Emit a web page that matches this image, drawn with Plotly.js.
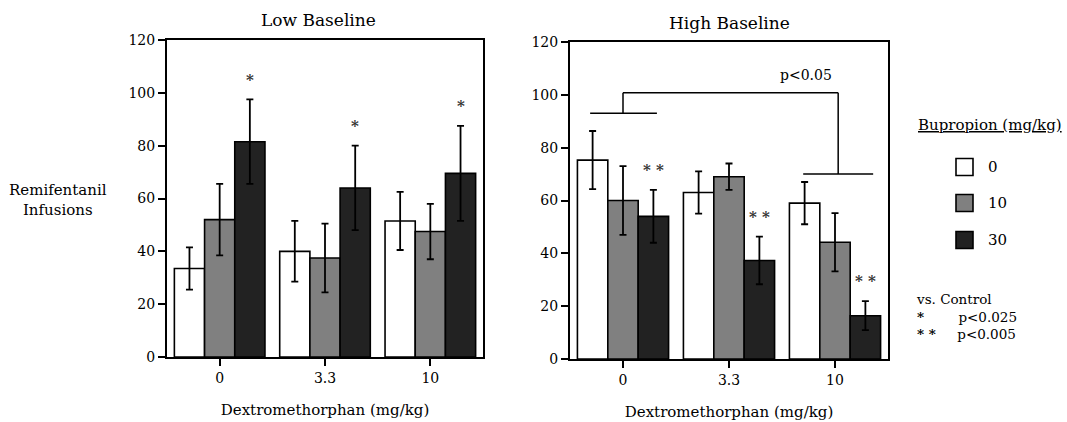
<!DOCTYPE html>
<html><head><meta charset="utf-8">
<script src="https://cdn.plot.ly/plotly-3.0.1.min.js"></script>
<style>html,body{margin:0;padding:0;background:#fff;} #chart{width:1067px;height:422px;}</style>
</head><body><div id="chart"></div>
<script>
// ---- data ----
const doses = ['0', '3.3', '10'];                 // Dextromethorphan (mg/kg)
const bupropionDoses = ['0', '10', '30'];         // Bupropion (mg/kg)
const seriesColors = ['#ffffff', '#808080', '#222222'];

const lowMean0  = [33.5, 40.0, 51.5];
const lowErr0   = [8.0, 11.5, 11.0];
const lowMean10 = [52.0, 37.5, 47.5];
const lowErr10  = [13.5, 13.0, 10.5];
const lowMean30 = [81.5, 64.0, 69.5];
const lowErr30  = [16.0, 16.0, 18.0];

const highMean0  = [75.3, 63.0, 59.0];
const highErr0   = [11.0, 8.0, 8.0];
const highMean10 = [60.0, 69.0, 44.2];
const highErr10  = [13.0, 5.0, 11.0];
const highMean30 = [54.0, 37.3, 16.4];
const highErr30  = [10.0, 9.0, 5.5];

const lowSig30  = ['*', '*', '*'];
const highSig30 = ['**', '**', '**'];

// ---- chart ----
const W = 1067, H = 422;
const px = v => v / W;
const py = v => 1 - v / H;
const FONT = 'DejaVu Serif, Liberation Serif, serif';
const INK = '#000000';
const BARGAP = 0.14;

const lowMeans = [lowMean0, lowMean10, lowMean30];
const lowErrs = [lowErr0, lowErr10, lowErr30];
const highMeans = [highMean0, highMean10, highMean30];
const highErrs = [highErr0, highErr10, highErr30];

function barTrace(means, errs, k, xa, ya) {
  return {
    type: 'bar', x: doses, y: means, name: bupropionDoses[k],
    xaxis: xa, yaxis: ya, showlegend: false,
    marker: {color: seriesColors[k], line: {color: INK, width: 1.6}},
    error_y: {type: 'data', array: errs, visible: true, color: INK, thickness: 1.8, width: 3.5},
    hoverinfo: 'skip'
  };
}

const data = [];
for (let k = 0; k < 3; k++) data.push(barTrace(lowMeans[k], lowErrs[k], k, 'x', 'y'));
for (let k = 0; k < 3; k++) data.push(barTrace(highMeans[k], highErrs[k], k, 'x2', 'y2'));

const barW = (1 - BARGAP) / 3;
const annotations = [];
const shapes = [];

function note(o) {
  annotations.push(Object.assign({showarrow: false, xanchor: 'center', yanchor: 'middle',
    xref: 'paper', yref: 'paper'}, o));
}
const f = (size, color) => ({family: FONT, size: size, color: color || INK});
const spaced = s => s.split('').join(' ');

// significance marks above the 30 mg/kg bars
lowSig30.forEach((s, i) => {
  note({xref: 'x', yref: 'y', x: i + barW, y: lowMean30[i] + lowErr30[i] + 7.5,
    text: '<b>' + spaced(s) + '</b>', font: f(15, '#333')});
});
highSig30.forEach((s, i) => {
  note({xref: 'x2', yref: 'y2', x: i + barW, y: highMean30[i] + highErr30[i] + 7.5,
    text: '<b>' + spaced(s) + '</b>', font: f(15, '#333')});
});

// bracket in High Baseline panel
const bl = {color: INK, width: 1.5};
shapes.push({type: 'line', xref: 'x2', yref: 'y2', x0: -0.31, x1: 0.32, y0: 93, y1: 93, line: bl});
shapes.push({type: 'line', xref: 'x2', yref: 'y2', x0: 0, x1: 0, y0: 93, y1: 100.8, line: bl});
shapes.push({type: 'line', xref: 'x2', yref: 'y2', x0: 0, x1: 2.03, y0: 100.8, y1: 100.8, line: bl});
shapes.push({type: 'line', xref: 'x2', yref: 'y2', x0: 2.03, x1: 2.03, y0: 100.8, y1: 70, line: bl});
shapes.push({type: 'line', xref: 'x2', yref: 'y2', x0: 1.7, x1: 2.36, y0: 70, y1: 70, line: bl});
note({xref: 'x2', yref: 'y2', x: 1.73, y: 107.5, text: 'p&lt;0.05', font: f(14)});

// panel titles
note({x: px(318), y: py(20), text: 'Low Baseline', font: f(17)});
note({x: px(729), y: py(23), text: 'High Baseline', font: f(17)});

// y axis title (horizontal)
note({x: px(58), y: py(200), text: 'Remifentanil<br>Infusions', align: 'center', font: f(15)});

// custom legend
note({x: px(990), y: py(125), text: '<u>Bupropion (mg/kg)</u>', font: f(15)});
const legY = [167, 203, 240];
bupropionDoses.forEach((d, k) => {
  shapes.push({type: 'rect', xref: 'paper', yref: 'paper',
    x0: px(956), x1: px(973), y0: py(legY[k] + 8.5), y1: py(legY[k] - 8.5),
    fillcolor: seriesColors[k], line: {color: INK, width: 1.6}});
  note({x: px(986), y: py(legY[k]), text: d, xanchor: 'left', font: f(15)});
});
const nb = n => '&nbsp;'.repeat(n);
note({x: px(914), y: py(316), xanchor: 'left', align: 'left', font: f(13.5),
  text: 'vs. Control<br><b>*</b>' + nb(8) + 'p&lt;0.025<br><b>* *</b>' + nb(5) + 'p&lt;0.005'});

function xAxis(domain, anchor) {
  return {domain: domain, anchor: anchor, type: 'category', categoryorder: 'array', categoryarray: doses,
    range: [-0.5, 2.5], showline: true, linecolor: INK, linewidth: 2, mirror: true,
    ticks: 'outside', ticklen: 7, tickwidth: 2, tickcolor: INK, showgrid: false, zeroline: false,
    tickfont: f(14),
    title: {text: 'Dextromethorphan (mg/kg)', standoff: 20, font: f(15)}};
}
function yAxis(domain, anchor) {
  return {domain: domain, anchor: anchor, range: [0, 120], dtick: 20, showline: true, linecolor: INK,
    linewidth: 2, mirror: true, ticks: 'outside', ticklen: 7, tickwidth: 2, tickcolor: INK,
    showgrid: false, zeroline: false, tickfont: f(14)};
}

const layout = {
  width: W, height: H, margin: {l: 0, r: 0, t: 0, b: 0},
  paper_bgcolor: '#fff', plot_bgcolor: '#fff',
  barmode: 'group', bargap: BARGAP, bargroupgap: 0, showlegend: false,
  xaxis: xAxis([px(167), px(483)], 'y'),
  yaxis: yAxis([py(357), py(40)], 'x'),
  xaxis2: xAxis([px(570), px(888)], 'y2'),
  yaxis2: yAxis([py(359), py(42)], 'x2'),
  annotations: annotations, shapes: shapes,
  font: {family: FONT, color: INK}
};

Plotly.newPlot('chart', data, layout, {displayModeBar: false, staticPlot: true});
</script>
</body></html>
